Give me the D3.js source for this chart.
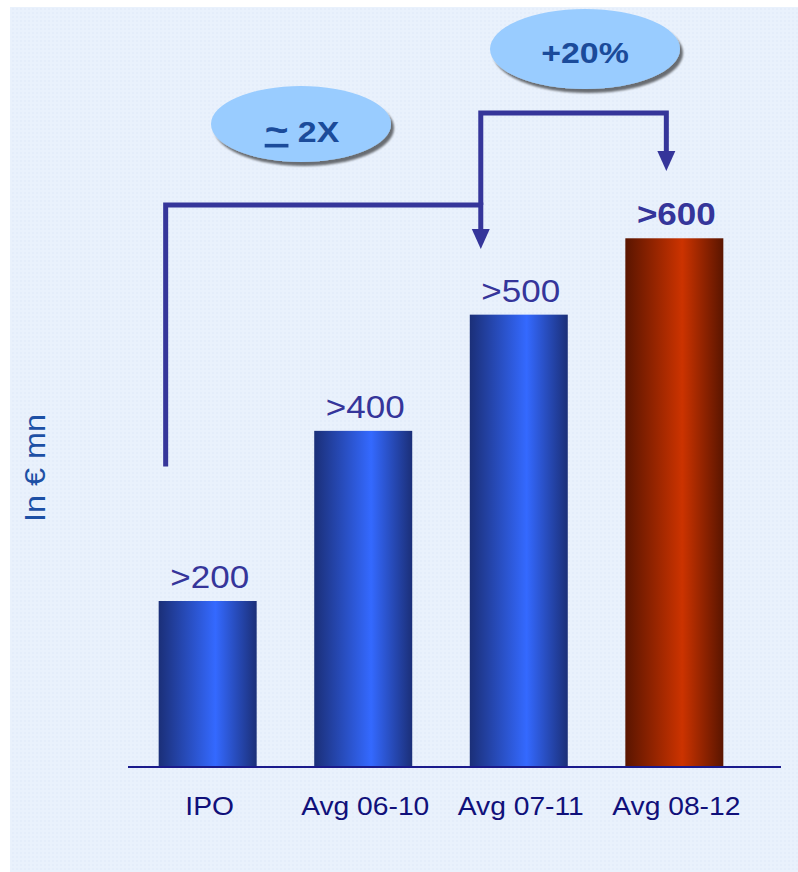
<!DOCTYPE html>
<html>
<head>
<meta charset="utf-8">
<script src="https://cdn.jsdelivr.net/npm/d3@7"></script>
<style>
  body { margin: 0; background: #fff; }
  svg { display: block; font-family: Arial, "Liberation Sans", sans-serif; }
</style>
</head>
<body>
<div id="chart"></div>
<script>
const categories = ['IPO', 'Avg 06-10', 'Avg 07-11', 'Avg 08-12'];
const values = [200, 405, 545, 637];
const valueLabels = ['>200', '>400', '>500', '>600'];
const highlight = [false, false, false, true];

const width = 798, height = 872;

const svg = d3.select('#chart').append('svg')
    .attr('width', width)
    .attr('height', height);

const defs = svg.append('defs');

// checkered light-blue backdrop
const pat = defs.append('pattern')
    .attr('id', 'grid').attr('width', 4).attr('height', 4)
    .attr('patternUnits', 'userSpaceOnUse');
pat.append('rect').attr('width', 4).attr('height', 4).attr('fill', '#e9f1fc');
pat.append('rect').attr('width', 2).attr('height', 2).attr('fill', '#e4edfa');

svg.append('rect')
    .attr('x', 10).attr('y', 7)
    .attr('width', width - 10).attr('height', height - 7)
    .attr('fill', 'url(#grid)');

function barGrad(id, edge, mid) {
    const g = defs.append('linearGradient').attr('id', id)
        .attr('x1', 0).attr('x2', 1).attr('y1', 0).attr('y2', 0);
    g.append('stop').attr('offset', '0%').attr('stop-color', edge);
    g.append('stop').attr('offset', '58%').attr('stop-color', mid);
    g.append('stop').attr('offset', '100%').attr('stop-color', edge);
}
barGrad('blueBar', '#1b2f78', '#3469ff');
barGrad('redBar', '#5a1500', '#cc3300');

const shadow = defs.append('filter').attr('id', 'shadow')
    .attr('x', '-20%').attr('y', '-20%').attr('width', '140%').attr('height', '150%');
shadow.append('feGaussianBlur').attr('in', 'SourceAlpha').attr('stdDeviation', 1);
shadow.append('feOffset').attr('dx', 3).attr('dy', 4).attr('result', 'off');
shadow.append('feComponentTransfer').append('feFuncA').attr('type', 'linear').attr('slope', 0.55);
const merge = shadow.append('feMerge');
merge.append('feMergeNode');
merge.append('feMergeNode').attr('in', 'SourceGraphic');

const x = d3.scaleBand()
    .domain(categories)
    .range([140, 742])
    .paddingInner(0.37)
    .paddingOuter(0.12);

const y = d3.scaleLinear()
    .domain([0, 800])
    .range([767, 103]);

// text in the original is a little wider than Liberation Sans
const stretch = 1.13;
const placeText = (px, py) => `translate(${px},${py}) scale(${stretch},1)`;

// bars
svg.selectAll('.bar')
    .data(categories)
    .enter()
    .append('rect')
        .attr('x', d => x(d))
        .attr('y', (d, i) => y(values[i]))
        .attr('width', x.bandwidth())
        .attr('height', (d, i) => y(0) - y(values[i]))
        .attr('fill', (d, i) => highlight[i] ? 'url(#redBar)' : 'url(#blueBar)');

// baseline
svg.append('line')
    .attr('x1', 128).attr('x2', 781)
    .attr('y1', y(0)).attr('y2', y(0))
    .attr('stroke', '#1a1a8c').attr('stroke-width', 2);

// value labels
svg.selectAll('.val')
    .data(categories)
    .enter()
    .append('text')
        .attr('transform', (d, i) => placeText(x(d) + x.bandwidth() / 2 + 2, y(values[i]) - 13))
        .attr('text-anchor', 'middle')
        .attr('font-size', 31)
        .attr('font-weight', (d, i) => highlight[i] ? 'bold' : 'normal')
        .attr('fill', '#35359a')
        .text((d, i) => valueLabels[i]);

// category labels
svg.selectAll('.cat')
    .data(categories)
    .enter()
    .append('text')
        .attr('transform', d => placeText(x(d) + x.bandwidth() / 2 + 2, 815))
        .attr('text-anchor', 'middle')
        .attr('font-size', 25)
        .attr('fill', '#10107a')
        .text(d => d);

// y axis title
svg.append('text')
    .attr('transform', 'translate(45,468) rotate(-90) scale(1.08,1)')
    .attr('text-anchor', 'middle')
    .attr('font-size', 30)
    .attr('fill', '#1d50a5')
    .text('In € mn');

// growth connectors
const lineColor = '#35359a';
const cx = i => x(categories[i]) + x.bandwidth() / 2;
const ipoX = x(categories[0]) + 7;
const conn = svg.append('g').attr('fill', 'none').attr('stroke', lineColor).attr('stroke-width', 5);

conn.append('path')
    .attr('d', `M${ipoX},${y(362)} V205 H${cx(2) - 38} V230`);
conn.append('path')
    .attr('d', `M${cx(2) - 38},205 V113 H${cx(3) - 8} V152`);

function arrowHead(ax, tipY) {
    svg.append('path')
        .attr('d', `M${ax - 9},${tipY - 20} L${ax + 9},${tipY - 20} L${ax},${tipY} Z`)
        .attr('fill', lineColor);
}
arrowHead(cx(2) - 38, 249);
arrowHead(cx(3) - 8, 171);

// bubbles
function bubble(bx, by, rx, ry) {
    const g = svg.append('g');
    g.append('ellipse')
        .attr('cx', bx).attr('cy', by).attr('rx', rx).attr('ry', ry)
        .attr('fill', '#99ccff')
        .attr('filter', 'url(#shadow)');
    return g;
}
const b1 = bubble(301, 124, 90, 38);
const t1 = b1.append('text')
    .attr('transform', placeText(302, 142))
    .attr('text-anchor', 'middle')
    .attr('font-size', 30).attr('font-weight', 'bold')
    .attr('fill', '#1b4b9a');
t1.append('tspan').attr('text-decoration', 'underline').attr('font-size', 36).text('~');
t1.append('tspan').text(' 2X');

const b2 = bubble(585, 49, 95, 40);
b2.append('text')
    .attr('transform', placeText(585, 63))
    .attr('text-anchor', 'middle')
    .attr('font-size', 30).attr('font-weight', 'bold')
    .attr('fill', '#1b4b9a')
    .text('+20%');
</script>
</body>
</html>
